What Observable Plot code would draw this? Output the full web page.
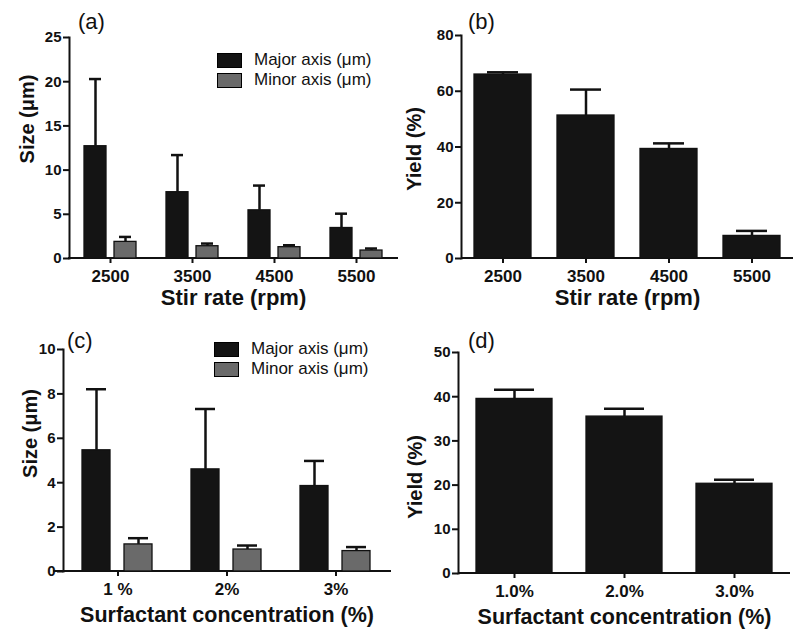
<!DOCTYPE html>
<html><head><meta charset="utf-8">
<script src="https://cdn.jsdelivr.net/npm/d3@7"></script>
<script src="https://cdn.jsdelivr.net/npm/@observablehq/plot@0.6"></script>
<style>
body{margin:0;background:#fff;font-family:"Liberation Sans",Arial,sans-serif;}
#wrap{position:relative;width:800px;height:635px;overflow:hidden}
.panel{position:absolute}
.plabel{position:absolute;font-size:22px;line-height:22px;color:#111}
.legend{position:absolute;font-size:17px;color:#111}
.legend .row{display:flex;align-items:center;height:20px}
.legend .sw{width:23px;height:13px;border:1.5px solid #000;margin-right:12px}
</style></head><body><div id="wrap"></div>
<script>
// ---- data ----
const seriesNames = ["Major axis (μm)", "Minor axis (μm)"];
const seriesColors = ["#141414", "#6a6a6a"];

const stirRates = ["2500", "3500", "4500", "5500"];
const stirMajor = [12.7, 7.5, 5.45, 3.45];
const stirMajorSd = [7.6, 4.2, 2.8, 1.62];
const stirMinor = [1.88, 1.39, 1.28, 0.9];
const stirMinorSd = [0.56, 0.3, 0.22, 0.23];
const stirYield = [66.0, 51.3, 39.3, 8.1];
const stirYieldSd = [0.8, 9.3, 2.0, 1.8];

const surfSizeCats = ["1 %", "2%", "3%"];
const surfMajor = [5.46, 4.6, 3.85];
const surfMajorSd = [2.75, 2.72, 1.13];
const surfMinor = [1.22, 0.99, 0.92];
const surfMinorSd = [0.28, 0.18, 0.18];

const surfYieldCats = ["1.0%", "2.0%", "3.0%"];
const surfYield = [39.5, 35.5, 20.3];
const surfYieldSd = [2.1, 1.8, 0.9];

const ticksA = [0, 5, 10, 15, 20, 25];
const ticksB = [0, 20, 40, 60, 80];
const ticksC = [0, 2, 4, 6, 8, 10];
const ticksD = [0, 10, 20, 30, 40, 50];

// ---- helpers ----
const FONT = '"Liberation Sans", Arial, sans-serif';
const wrap = document.getElementById("wrap");
function place(node, left, top) {
  node.classList.add("panel");
  node.style.left = left + "px";
  node.style.top = top + "px";
  wrap.appendChild(node);
}
function panelLabel(text, left, top) {
  const d = document.createElement("div");
  d.className = "plabel"; d.textContent = text;
  d.style.left = left + "px"; d.style.top = top + "px";
  wrap.appendChild(d);
}
function legend(left, top) {
  const d = document.createElement("div");
  d.className = "legend";
  d.style.left = left + "px"; d.style.top = top + "px";
  seriesNames.forEach((s, i) => {
    const r = document.createElement("div"); r.className = "row";
    const sw = document.createElement("div"); sw.className = "sw"; sw.style.background = seriesColors[i];
    const t = document.createElement("span"); t.textContent = s;
    r.appendChild(sw); r.appendChild(t); d.appendChild(r);
  });
  wrap.appendChild(d);
}
function groupedRows(cats, maj, majSd, min, minSd) {
  return cats.flatMap((c, i) => [
    {cat: c, series: seriesNames[0], value: maj[i], hi: maj[i] + majSd[i]},
    {cat: c, series: seriesNames[1], value: min[i], hi: min[i] + minSd[i]}
  ]);
}
function simpleRows(cats, vals, sds) {
  return cats.map((c, i) => ({cat: c, value: vals[i], hi: vals[i] + sds[i]}));
}
function yTitle(o, faceted) {
  return Plot.text([o.yLabel], {
    frameAnchor: "left", ...(faceted ? {facetAnchor: "left"} : {}),
    rotate: -90, textAnchor: "middle", lineAnchor: "middle",
    dx: o.yLabelDx, dy: o.yLabelDy, fontSize: 20, fontWeight: "bold", fill: "#111"
  });
}

function groupedPlot(o) {
  const rows = o.rows;
  return Plot.plot({
    width: 400, height: o.height,
    marginLeft: o.ml, marginRight: o.mr, marginTop: o.mt, marginBottom: o.mb,
    style: {fontFamily: FONT, color: "#111", background: "transparent", overflow: "visible"},
    fx: {domain: o.cats, paddingInner: 0, paddingOuter: o.fxOuter, align: o.fxAlign},
    x: {domain: seriesNames, paddingInner: o.xInner, paddingOuter: o.xOuter, axis: null},
    y: {domain: [o.ticks[0], o.ticks[o.ticks.length - 1]]},
    color: {domain: seriesNames, range: seriesColors},
    marks: [
      Plot.ruleY([0], {stroke: "#111", strokeWidth: 2, dy: -0.5, insetLeft: o.ruleInset - 1, insetRight: -1}),
      Plot.ruleX(rows, {fx: "cat", x: "series", y1: "value", y2: "hi", stroke: "#111", strokeWidth: 2.5}),
      Plot.tickY(rows, {fx: "cat", x: "series", y: "hi", stroke: "#111", strokeWidth: 2.5, insetLeft: o.cap, insetRight: o.cap}),
      Plot.barY(rows, {fx: "cat", x: "series", y: "value", fill: "series", stroke: "#111", strokeWidth: 1.3}),
      Plot.frame({anchor: "left", facetAnchor: "left", stroke: "#111", strokeWidth: 2}),
      Plot.axisY({ticks: o.ticks, tickSize: 6, strokeWidth: 2, fontSize: 15, fontWeight: "bold", tickPadding: 2, label: null}),
      yTitle(o, true),
      Plot.axisFx({anchor: "bottom", tickSize: 5, strokeWidth: 2, fontSize: 17, fontWeight: "bold", tickPadding: 6, label: null}),
      Plot.axisFx({anchor: "bottom", ticks: [], tickSize: 0, label: o.xLabel, labelAnchor: "center", labelArrow: "none", labelOffset: o.xLabelOffset, fontSize: o.xLabelSize, fontWeight: "bold"})
    ]
  });
}

function simplePlot(o) {
  const rows = o.rows;
  return Plot.plot({
    width: 400, height: o.height,
    marginLeft: o.ml, marginRight: o.mr, marginTop: o.mt, marginBottom: o.mb,
    style: {fontFamily: FONT, color: "#111", background: "transparent", overflow: "visible"},
    x: {domain: o.cats, paddingInner: o.xInner, paddingOuter: o.xOuter},
    y: {domain: [o.ticks[0], o.ticks[o.ticks.length - 1]]},
    marks: [
      Plot.ruleY([0], {stroke: "#111", strokeWidth: 2, dy: -0.5}),
      Plot.ruleX(rows, {x: "cat", y1: "value", y2: "hi", stroke: "#111", strokeWidth: 2.5}),
      Plot.tickY(rows, {x: "cat", y: "hi", stroke: "#111", strokeWidth: 2.5, insetLeft: o.cap, insetRight: o.cap}),
      Plot.barY(rows, {x: "cat", y: "value", fill: seriesColors[0], stroke: "#111", strokeWidth: 1.3}),
      Plot.frame({anchor: "left", stroke: "#111", strokeWidth: 2}),
      Plot.axisY({ticks: o.ticks, tickSize: 6, strokeWidth: 2, fontSize: 15, fontWeight: "bold", tickPadding: 2, label: null}),
      yTitle(o, false),
      Plot.axisX({tickSize: 5, strokeWidth: 2, fontSize: 17, fontWeight: "bold", tickPadding: 6, label: null}),
      Plot.axisX({ticks: [], tickSize: 0, label: o.xLabel, labelAnchor: "center", labelArrow: "none", labelOffset: o.xLabelOffset, fontSize: o.xLabelSize, fontWeight: "bold"})
    ]
  });
}

// (a)
place(groupedPlot({
  rows: groupedRows(stirRates, stirMajor, stirMajorSd, stirMinor, stirMinorSd),
  cats: stirRates, ticks: ticksA, height: 310,
  ml: 69, mr: 3, mt: 37, mb: 52, fxOuter: 0, fxAlign: 0.5,
  xInner: 0.26, xOuter: 0.475, cap: 5, ruleInset: 0,
  yLabel: "Size (μm)", yLabelDx: -42, yLabelDy: -29,
  xLabel: "Stir rate (rpm)", xLabelOffset: 46, xLabelSize: 22
}), 0, 0);

// (b)
place(simplePlot({
  rows: simpleRows(stirRates, stirYield, stirYieldSd),
  cats: stirRates, ticks: ticksB, height: 310,
  ml: 61, mr: 7, mt: 35, mb: 52, xInner: 0.31, xOuter: 0.155, cap: 13,
  yLabel: "Yield (%)", yLabelDx: -47, yLabelDy: 2,
  xLabel: "Stir rate (rpm)", xLabelOffset: 46, xLabelSize: 22
}), 400, 0);

// (c)
place(groupedPlot({
  rows: groupedRows(surfSizeCats, surfMajor, surfMajorSd, surfMinor, surfMinorSd),
  cats: surfSizeCats, ticks: ticksC, height: 325,
  ml: 53, mr: 10, mt: 39, mb: 64, fxOuter: 0.04, fxAlign: 1,
  xInner: 0.326, xOuter: 0.435, cap: 4, ruleInset: -9,
  yLabel: "Size (μm)", yLabelDx: -33, yLabelDy: -27,
  xLabel: "Surfactant concentration (%)", xLabelOffset: 50, xLabelSize: 21.5
}), 0, 310);

// (d)
place(simplePlot({
  rows: simpleRows(surfYieldCats, surfYield, surfYieldSd),
  cats: surfYieldCats, ticks: ticksD, height: 325,
  ml: 58, mr: 10, mt: 42, mb: 62, xInner: 0.306, xOuter: 0.153, cap: 18,
  yLabel: "Yield (%)", yLabelDx: -43, yLabelDy: 14,
  xLabel: "Surfactant concentration (%)", xLabelOffset: 50, xLabelSize: 21.5
}), 400, 310);

panelLabel("(a)", 78, 11);
panelLabel("(b)", 468, 11);
panelLabel("(c)", 67, 330);
panelLabel("(d)", 468, 330);
legend(217, 50);
legend(214, 339);
</script></body></html>
